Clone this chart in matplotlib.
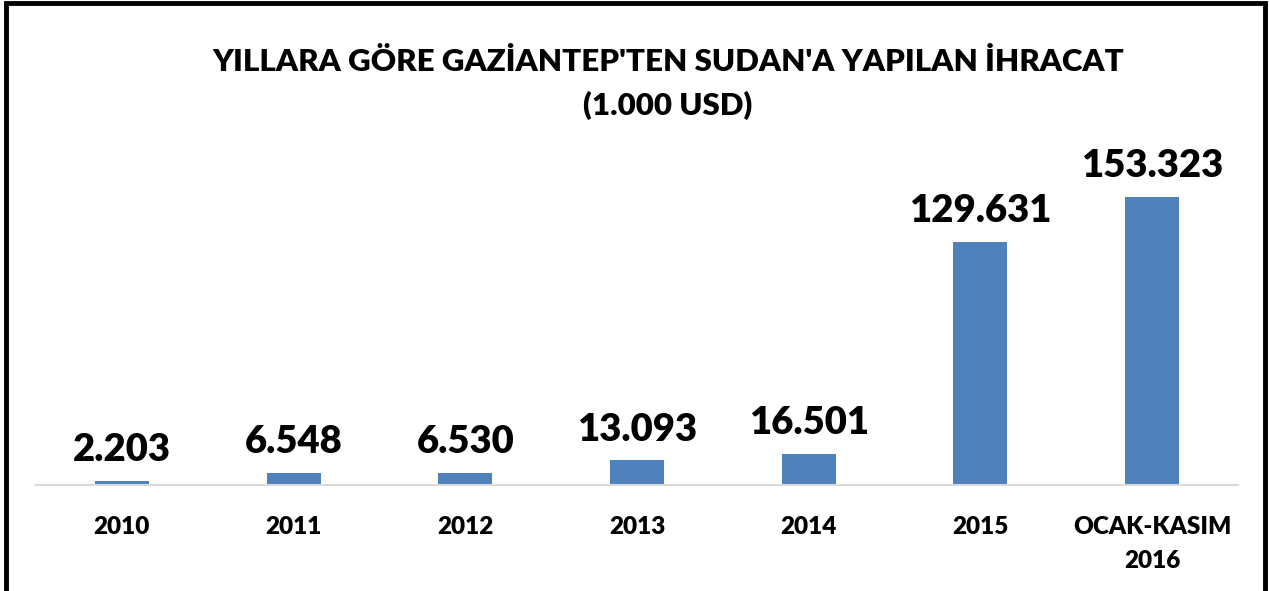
import matplotlib.pyplot as plt
from matplotlib.patches import Rectangle

categories = ['2010', '2011', '2012', '2013', '2014', '2015', 'OCAK-KASIM\n2016']
values = [2.203, 6.548, 6.530, 13.093, 16.501, 129.631, 153.323]
labels = ['2.203', '6.548', '6.530', '13.093', '16.501', '129.631', '153.323']

plt.rcParams['font.family'] = ['Lato', 'DejaVu Sans']

fig = plt.figure(figsize=(12.69, 5.91), dpi=100)
ax = fig.add_axes([36 / 1269, (591 - 485) / 591, (1238 - 36) / 1269, 345 / 591])

x = range(len(categories))
ax.bar(x, values, width=0.315, color='#4F81BD')
for i, v in enumerate(values):
    ax.annotate(labels[i], (i, v), xytext=(0, 10), textcoords='offset points',
                ha='center', va='bottom', fontsize=27.5, fontweight='heavy')

ax.set_xlim(-0.5, len(categories) - 0.5)
ax.set_ylim(0, 183.7)
ax.set_xticks(list(x))
ax.set_xticklabels(categories, fontsize=17.5, fontweight='heavy', linespacing=1.7)
ax.tick_params(axis='x', length=0, pad=22)
ax.set_yticks([])
for s in ['top', 'right', 'left']:
    ax.spines[s].set_visible(False)
ax.spines['bottom'].set_color('#D9D9D9')
ax.spines['bottom'].set_linewidth(1.5)

fig.text(668 / 1269, 1 - 62 / 591, "YILLARA GÖRE GAZİANTEP'TEN SUDAN'A YAPILAN İHRACAT",
         ha='center', va='center', fontsize=22.5, fontweight='heavy')
fig.text(668 / 1269, 1 - 105 / 591, "(1.000 USD)",
         ha='center', va='center', fontsize=22.5, fontweight='heavy')

# outer frame
fig.patches.append(Rectangle((6.5 / 1269, -0.05), (1258 / 1269), 1 - 3.5 / 591 + 0.05,
                             transform=fig.transFigure, fill=False,
                             edgecolor='black', linewidth=3.5))

fig.savefig('out.png', dpi=100)
